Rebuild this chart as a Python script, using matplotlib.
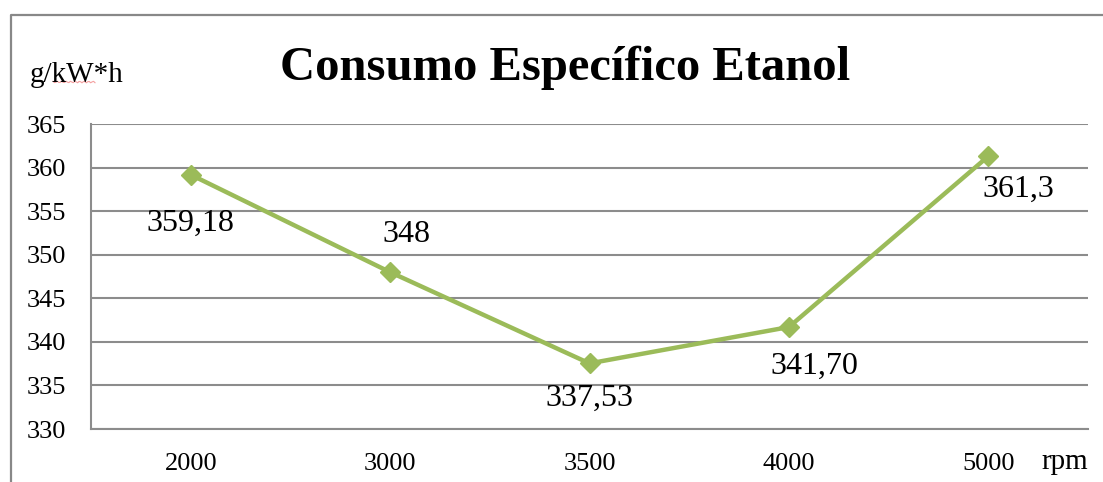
import numpy as np
import matplotlib.pyplot as plt
from matplotlib.lines import Line2D

plt.rcParams.update({
    "font.family": ["Liberation Serif", "DejaVu Serif"],
    "font.size": 19,
})

# rpm categories and specific consumption (g/kW*h)
rpm = ["2000", "3000", "3500", "4000", "5000"]
consumo = [359.18, 348, 337.53, 341.70, 361.3]
rotulos = ["359,18", "348", "337,53", "341,70", "361,3"]
# label offsets in points (dx, dy)
offsets = [(0, -35), (12, 27), (0, -25), (18, -28), (22, -24)]
y_ticks = list(range(330, 366, 5))

green = "#9BBB59"
grid_gray = "#8C8C8C"

W, H = 1103, 482
fig = plt.figure(figsize=(W / 100, H / 100), dpi=100)
ax = fig.add_axes([91 / W, 1 - 429 / H, (1088 - 91) / W, (429 - 124) / H])

x = np.arange(len(rpm))
ax.plot(x, consumo, color=green, lw=3.2, marker="D", markersize=10,
        markerfacecolor=green, markeredgecolor=green, zorder=3)

for xi, yi, txt, (dx, dy) in zip(x, consumo, rotulos, offsets):
    ax.annotate(txt, (xi, yi), xytext=(dx, dy), textcoords="offset points",
                ha="center", va="center", fontsize=23)

ax.set_xlim(-0.5, len(rpm) - 0.5)
ax.set_ylim(330, 365)
ax.set_yticks(y_ticks)
ax.set_xticks(x)
ax.set_xticklabels(rpm)
ax.yaxis.grid(True, color=grid_gray, lw=1.5)
ax.set_axisbelow(True)
ax.tick_params(length=0, labelsize=19)
ax.tick_params(axis="y", pad=18)
ax.tick_params(axis="x", pad=17)
for side in ["top", "right"]:
    ax.spines[side].set_visible(False)
for side in ["left", "bottom"]:
    ax.spines[side].set_color(grid_gray)
    ax.spines[side].set_linewidth(1.5)

fig.text(565 / W, 1 - 68 / H, "Consumo Específico Etanol", ha="center",
         va="center", fontsize=35, fontweight="bold")
fig.text(30 / W, 1 - 75 / H, "g/kW*h", ha="left", va="center", fontsize=21)
fig.text(1088 / W, 1 - 462 / H, "rpm", ha="right", va="center", fontsize=21)

# spell-check squiggle under "kW"
sx = np.linspace(53, 95, 30)
sy = 1 - (82 + 0.8 * np.sin(sx * 1.4)) / H
fig.add_artist(Line2D(sx / W, sy, color="#F4A0A0", lw=0.8))

# chart frame (top and left edges)
fig.add_artist(Line2D([10.5 / W, 10.5 / W, 1], [0, 1 - 14.5 / H, 1 - 14.5 / H],
                      color="#888888", lw=1.6))

fig.savefig("out.png", dpi=100)
